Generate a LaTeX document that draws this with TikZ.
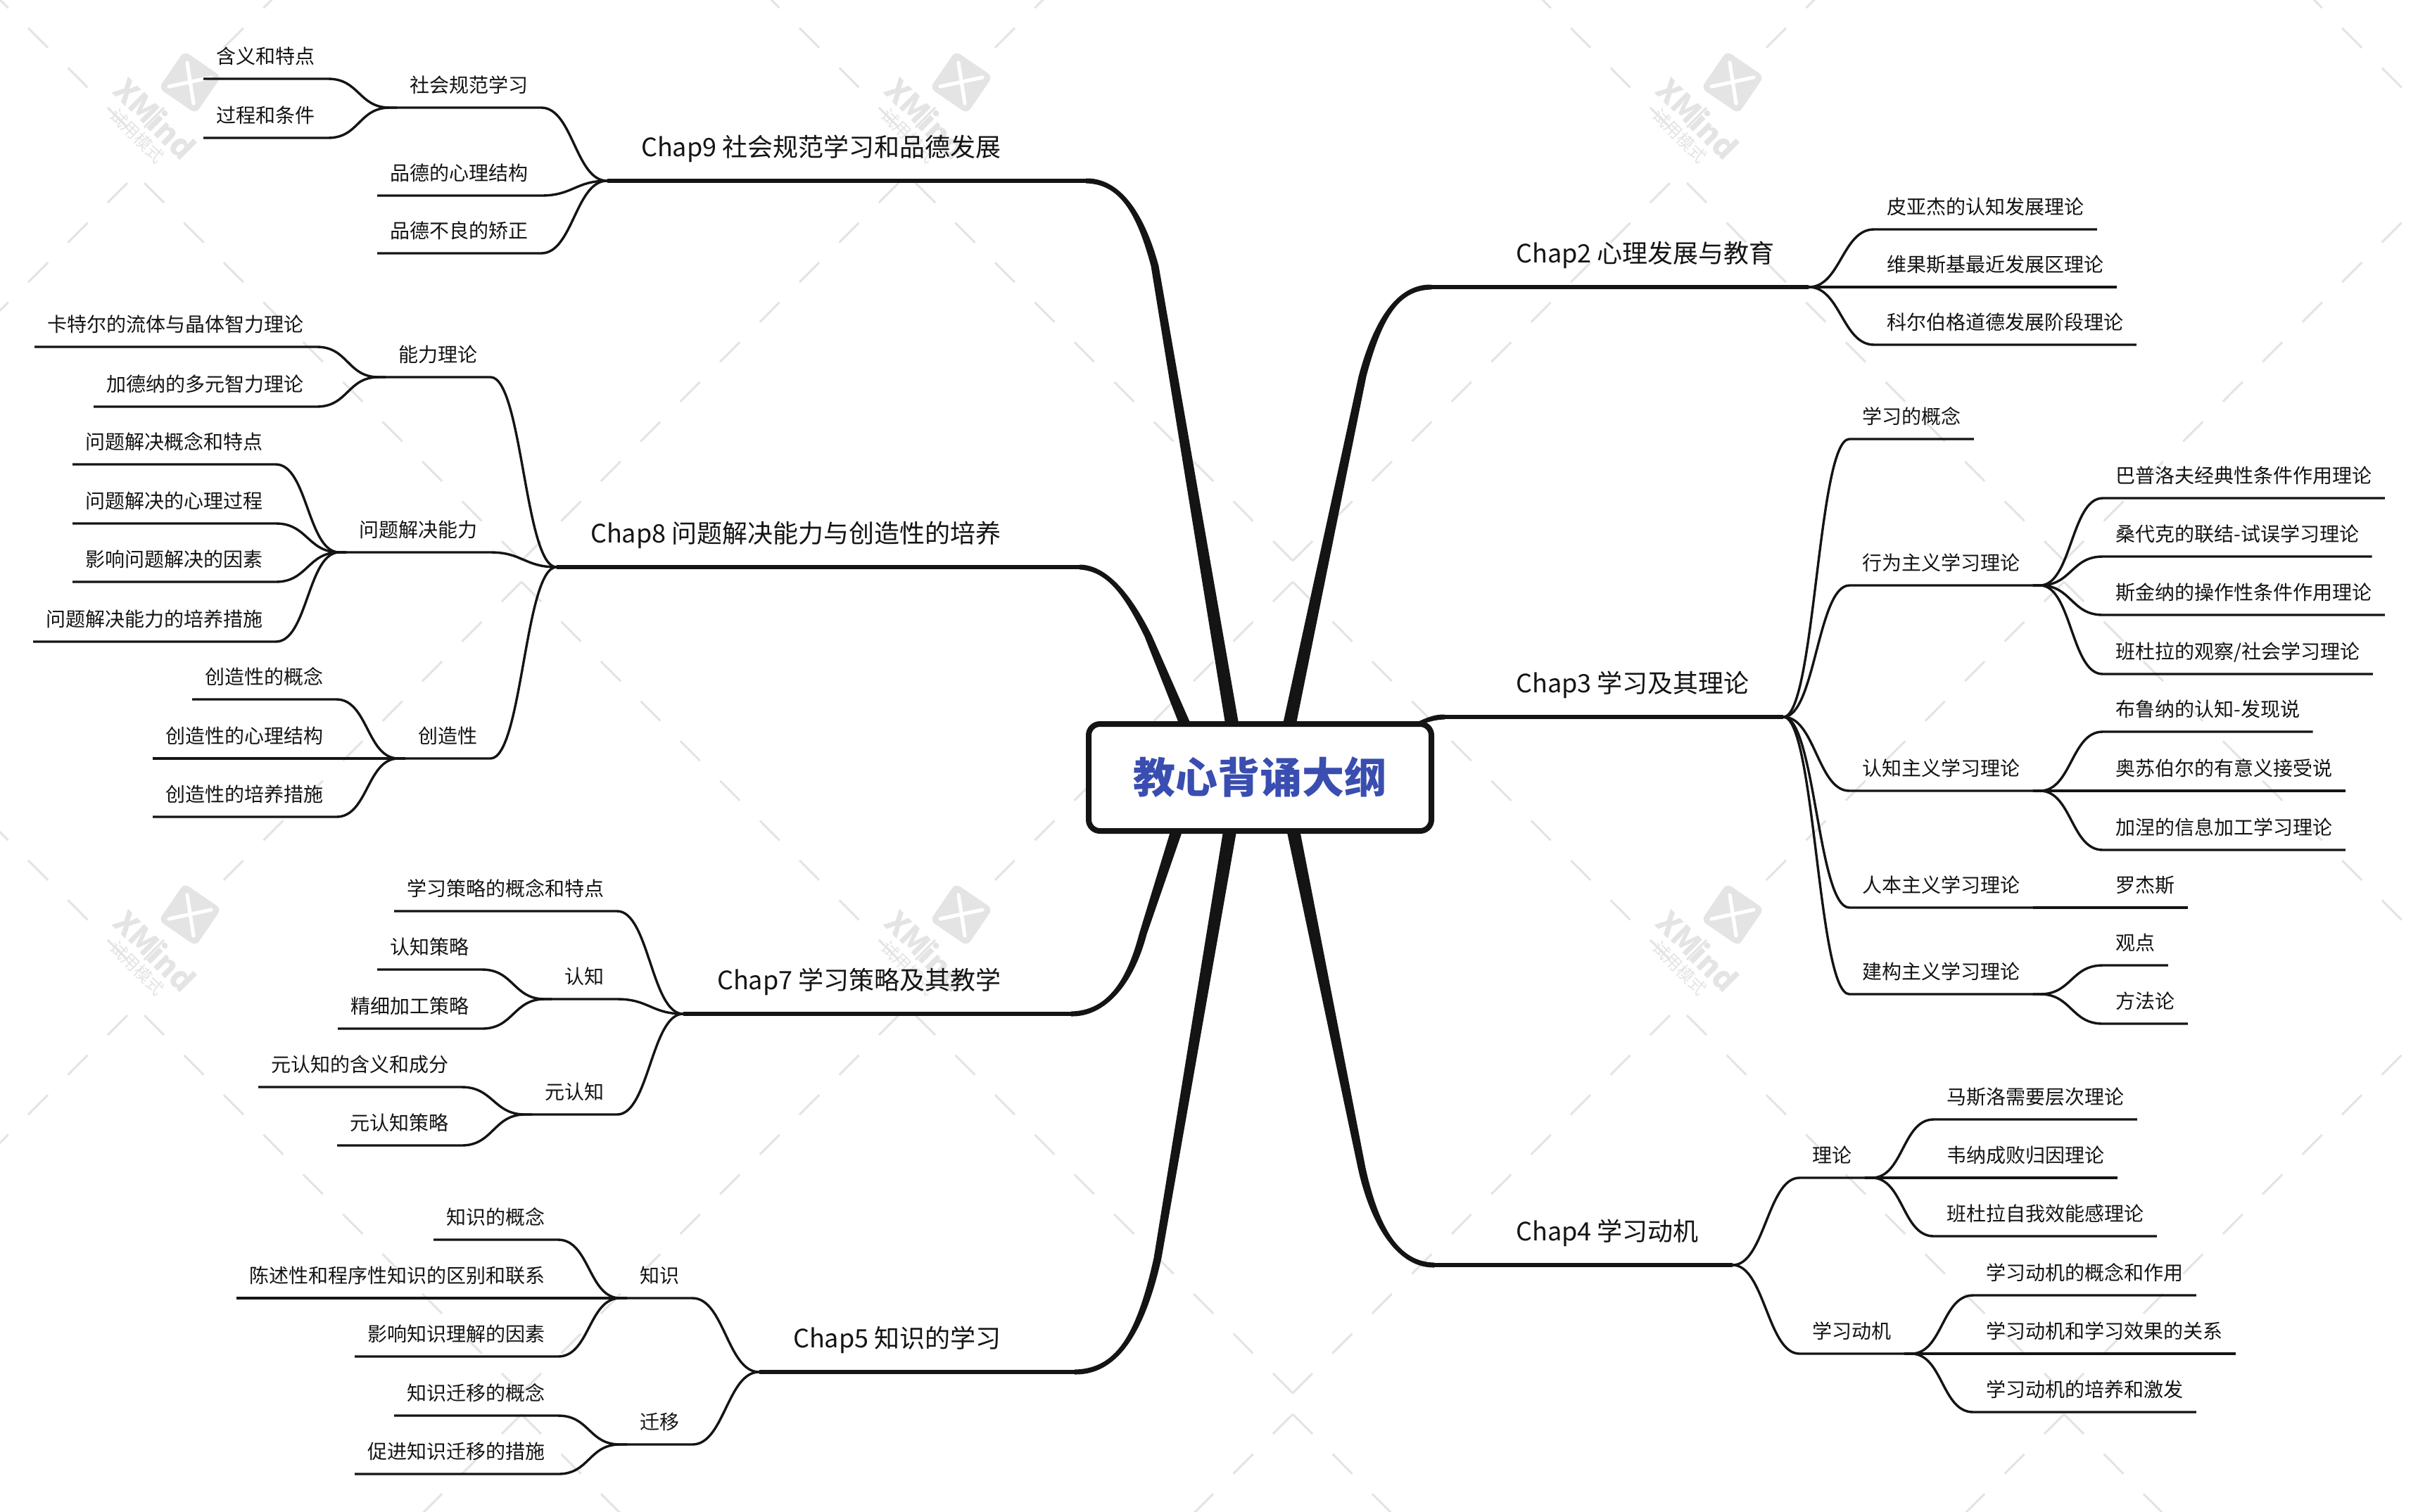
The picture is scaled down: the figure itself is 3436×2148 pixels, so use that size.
\documentclass[tikz,border=0pt]{standalone}
\usepackage{fontspec}
\setmainfont{Noto Sans CJK SC}
\usetikzlibrary{calc}
\definecolor{ink}{HTML}{141414}
\definecolor{wm}{HTML}{E4E4E4}
\definecolor{rootblue}{HTML}{3A4DB0}
\pgfdeclarelayer{wmlayer}
\pgfdeclarelayer{branch}
\pgfsetlayers{wmlayer,branch,main}
\tikzset{
 sub/.style={inner xsep=9pt,inner ysep=7.7pt,text height=10.5pt,text depth=3pt,text=ink,font=\fontsize{14pt}{16pt}\selectfont},
 maint/.style={inner xsep=24pt,inner ysep=13pt,text height=16pt,text depth=4pt,text=ink,font=\fontsize{18pt}{20pt}\selectfont},
 conn/.style={draw=ink,line width=1.7pt,line join=round},
 mainline/.style={draw=ink,line width=3pt},
 wmdash/.style={draw=wm,line width=1.5pt,dash pattern=on 19.8pt off 20.15pt},
 rootbox/.style={draw=ink,line width=4pt,fill=white,rounded corners=8pt,minimum width=243.5pt,minimum height=76pt,text=rootblue,inner sep=0pt,font=\fontsize{30pt}{32pt}\selectfont\bfseries},
}
% left-going connector: ext, parent, child
\newcommand\cL[3][10]{\draw[conn] (#2.south west) -- ++(-#1,0) .. controls +(-45,0) and ($(#3.south east)+(45,0)$) .. (#3.south east) -- (#3.south west);}
\newcommand\cR[3][10]{\draw[conn] (#2.south east) -- ++(#1,0) .. controls +(45,0) and ($(#3.south west)+(-45,0)$) .. (#3.south west) -- (#3.south east);}
% tapered main branch: sign, start offset from root centre, J, C1, C2, end
\newcommand\taper[6]{\fill[ink] ($(root.center)+(#2,0)+(#1*10,0)$) -- ($(#3)+(#1*5.5,0)$) .. controls ($(#4)+(#1*5.5,0)$) and ($(#5)+(0,-4.5)$) .. ($(#6)+(0,-3.5)$) -- ($(#6)+(0,3.5)$) .. controls ($(#5)+(0,4.5)$) and ($(#4)+(-#1*5.5,0)$) .. ($(#3)+(-#1*5.5,0)$) -- ($(root.center)+(#2,0)+(-#1*10,0)$) -- cycle;}
\begin{document}
\begin{tikzpicture}[x=0.5pt,y=-0.5pt]
\useasboundingbox (0,0) rectangle (3436,2148);
% ---------- watermark
\begin{pgfonlayer}{wmlayer}
\fill[white] (0,0) rectangle (3436,2148);
\begin{scope}
\clip (0,0) rectangle (3436,2148);
\foreach \i in {-1,0,1,2,3}{
 \foreach \j in {-1,0,1,2}{
  \pgfmathsetmacro\ax{193+1096*\i}
  \pgfmathsetmacro\ay{1183*\j}
  \pgfmathsetmacro\bx{\ax+548}
  % from B upper back to A lower
  \draw[wmdash] (\bx,\ay+797) -- (\ax,\ay+248);
  \draw[wmdash] (\bx,\ay+797) -- (\bx+548,\ay+248);
  % from B lower to next A upper
  \draw[wmdash] (\bx,\ay+827) -- (\ax,\ay+1376);
  \draw[wmdash] (\bx,\ay+827) -- (\bx+548,\ay+1376);
 }}
\foreach \i in {0,1,2}{
 \foreach \j in {0,1}{
  \begin{scope}[shift={(270+1096*\i,117+1183*\j)}]
   \fill[wm,rounded corners=4pt,rotate=-34.4] (-32,-32) rectangle (32,32);
   \draw[white,line width=2.6pt,line cap=round] (-4,-28) -- (5,30);
   \draw[white,line width=2.6pt,line cap=round] (-30,6) -- (30,-7);
   \node[rotate=-45,text=wm,inner sep=0pt,font=\fontsize{22pt}{24pt}\selectfont\bfseries] (xm\i\j) at (-49,51) {XMind};
   \node[rotate=-45,text=wm,inner sep=0pt,font=\fontsize{12pt}{13pt}\selectfont] (xt\i\j) at (-75,76) {试用模式};
  \end{scope}
 }}
\end{scope}
\end{pgfonlayer}
% ---------- root
\node[rootbox] (root) at (1790.5,1105) {教心背诵大纲};
% ---------- main topics
\node[maint,anchor=south east] (m9) at (1471,257) {Chap9 社会规范学习和品德发展};
\node[maint,anchor=south east] (m8) at (1471,806) {Chap8 问题解决能力与创造性的培养};
\node[maint,anchor=south east] (m7) at (1471,1441) {Chap7 学习策略及其教学};
\node[maint,anchor=south east] (m5) at (1471,1950) {Chap5 知识的学习};
\node[maint,anchor=south west] (m2) at (2106,408) {Chap2 心理发展与教育};
\node[maint,anchor=south west] (m3) at (2106,1019) {Chap3 学习及其理论};
\node[maint,anchor=south west] (m4) at (2106,1798) {Chap4 学习动机};
\coordinate (e9) at ($(m9.south east)+(72,0)$);
\coordinate (e8) at ($(m8.south east)+(63,0)$);
\coordinate (e7) at ($(m7.south east)+(51,0)$);
\coordinate (e5) at ($(m5.south east)+(56,0)$);
\coordinate (e2) at ($(m2.south west)+(-72,0)$);
\coordinate (e3) at ($(m3.south west)+(-53,0)$);
\coordinate (e4) at ($(m4.south west)+(-68,0)$);
\draw[mainline] (m9.south west) -- (e9);
\draw[mainline] (m8.south west) -- (e8);
\draw[mainline] (m7.south west) -- (e7);
\draw[mainline] (m5.south west) -- (e5);
\draw[mainline] (m2.south east) -- (e2);
\draw[mainline] (m3.south east) -- (e3);
\draw[mainline] (m4.south east) -- (e4);
\begin{pgfonlayer}{branch}
\taper{1}{-27}{1641,378}{1620,300}{1590,257}{e9}
\taper{1}{-75}{1632,905}{1605,850}{1575,807}{e8}
\taper{-1}{-94}{1624,1328}{1605,1400}{1570,1441}{e7}
\taper{-1}{-30}{1645,1788}{1620,1900}{1585,1950}{e5}
\taper{-1}{26}{1936,535}{1960,445}{1990,408}{e2}
\taper{-1}{0}{1990,1040}{2015,1030}{2030,1019}{e3}
\taper{1}{32}{1935,1660}{1955,1750}{1990,1798}{e4}
\end{pgfonlayer}
% ---------- Chap9
\node[sub,anchor=south east] (a1) at (769,153) {社会规范学习};
\node[sub,anchor=south east] (a2) at (769,278) {品德的心理结构};
\node[sub,anchor=south east] (a3) at (769,360) {品德不良的矫正};
\node[sub,anchor=south east] (a11) at (466,112) {含义和特点};
\node[sub,anchor=south east] (a12) at (466,196) {过程和条件};
\cL[0]{m9}{a1}\cL[0]{m9}{a2}\cL[0]{m9}{a3}
\cL{a1}{a11}\cL{a1}{a12}
% ---------- Chap8
\node[sub,anchor=south east] (b1) at (697,536) {能力理论};
\node[sub,anchor=south east] (b2) at (697,785) {问题解决能力};
\node[sub,anchor=south east] (b3) at (697,1078) {创造性};
\node[sub,anchor=south east] (b11) at (450,493) {卡特尔的流体与晶体智力理论};
\node[sub,anchor=south east] (b12) at (450,578) {加德纳的多元智力理论};
\node[sub,anchor=south east] (b21) at (392,660) {问题解决概念和特点};
\node[sub,anchor=south east] (b22) at (392,744) {问题解决的心理过程};
\node[sub,anchor=south east] (b23) at (392,827) {影响问题解决的因素};
\node[sub,anchor=south east] (b24) at (392,912) {问题解决能力的培养措施};
\node[sub,anchor=south east] (b31) at (478,994) {创造性的概念};
\node[sub,anchor=south east] (b32) at (478,1078) {创造性的心理结构};
\node[sub,anchor=south east] (b33) at (478,1161) {创造性的培养措施};
\cL[0]{m8}{b1}\cL[0]{m8}{b2}\cL[0]{m8}{b3}
\cL{b1}{b11}\cL{b1}{b12}
\cL{b2}{b21}\cL{b2}{b22}\cL{b2}{b23}\cL{b2}{b24}
\cL{b3}{b31}\cL{b3}{b32}\cL{b3}{b33}
% ---------- Chap7
\node[sub,anchor=south east] (c1) at (877,1295) {学习策略的概念和特点};
\node[sub,anchor=south east] (c2) at (877,1420) {认知};
\node[sub,anchor=south east] (c3) at (877,1584) {元认知};
\node[sub,anchor=south east] (c21) at (685,1378) {认知策略};
\node[sub,anchor=south east] (c22) at (685,1462) {精细加工策略};
\node[sub,anchor=south east] (c31) at (656,1545) {元认知的含义和成分};
\node[sub,anchor=south east] (c32) at (656,1628) {元认知策略};
\cL[0]{m7}{c1}\cL[0]{m7}{c2}\cL[0]{m7}{c3}
\cL{c2}{c21}\cL{c2}{c22}
\cL{c3}{c31}\cL{c3}{c32}
% ---------- Chap5
\node[sub,anchor=south east] (d1) at (984,1845) {知识};
\node[sub,anchor=south east] (d2) at (984,2053) {迁移};
\node[sub,anchor=south east] (d11) at (793,1762) {知识的概念};
\node[sub,anchor=south east] (d12) at (793,1845) {陈述性和程序性知识的区别和联系};
\node[sub,anchor=south east] (d13) at (793,1928) {影响知识理解的因素};
\node[sub,anchor=south east] (d21) at (793,2012) {知识迁移的概念};
\node[sub,anchor=south east] (d22) at (793,2095) {促进知识迁移的措施};
\cL[0]{m5}{d1}\cL[0]{m5}{d2}
\cL{d1}{d11}\cL{d1}{d12}\cL{d1}{d13}
\cL{d2}{d21}\cL{d2}{d22}
% ---------- Chap2
\node[sub,anchor=south west] (p1) at (2663,326) {皮亚杰的认知发展理论};
\node[sub,anchor=south west] (p2) at (2663,408) {维果斯基最近发展区理论};
\node[sub,anchor=south west] (p3) at (2663,490) {科尔伯格道德发展阶段理论};
\cR[0]{m2}{p1}\cR[0]{m2}{p2}\cR[0]{m2}{p3}
% ---------- Chap3
\node[sub,anchor=south west] (q1) at (2628,624) {学习的概念};
\node[sub,anchor=south west] (q2) at (2628,832) {行为主义学习理论};
\node[sub,anchor=south west] (q3) at (2628,1124) {认知主义学习理论};
\node[sub,anchor=south west] (q4) at (2628,1290) {人本主义学习理论};
\node[sub,anchor=south west] (q5) at (2628,1413) {建构主义学习理论};
\node[sub,anchor=south west] (q21) at (2988,708) {巴普洛夫经典性条件作用理论};
\node[sub,anchor=south west] (q22) at (2988,791) {桑代克的联结-试误学习理论};
\node[sub,anchor=south west] (q23) at (2988,874) {斯金纳的操作性条件作用理论};
\node[sub,anchor=south west] (q24) at (2988,958) {班杜拉的观察/社会学习理论};
\node[sub,anchor=south west] (q31) at (2988,1040) {布鲁纳的认知-发现说};
\node[sub,anchor=south west] (q32) at (2988,1124) {奥苏伯尔的有意义接受说};
\node[sub,anchor=south west] (q33) at (2988,1208) {加涅的信息加工学习理论};
\node[sub,anchor=south west] (q41) at (2988,1290) {罗杰斯};
\node[sub,anchor=south west] (q51) at (2988,1372) {观点};
\node[sub,anchor=south west] (q52) at (2988,1455) {方法论};
\cR[0]{m3}{q1}\cR[0]{m3}{q2}\cR[0]{m3}{q3}\cR[0]{m3}{q4}\cR[0]{m3}{q5}
\cR{q2}{q21}\cR{q2}{q22}\cR{q2}{q23}\cR{q2}{q24}
\cR{q3}{q31}\cR{q3}{q32}\cR{q3}{q33}
\cR{q4}{q41}
\cR{q5}{q51}\cR{q5}{q52}
% ---------- Chap4
\node[sub,anchor=south west] (r1) at (2557,1674) {理论};
\node[sub,anchor=south west] (r2) at (2557,1924) {学习动机};
\node[sub,anchor=south west] (r11) at (2748,1591) {马斯洛需要层次理论};
\node[sub,anchor=south west] (r12) at (2748,1674) {韦纳成败归因理论};
\node[sub,anchor=south west] (r13) at (2748,1757) {班杜拉自我效能感理论};
\node[sub,anchor=south west] (r21) at (2804,1841) {学习动机的概念和作用};
\node[sub,anchor=south west] (r22) at (2804,1924) {学习动机和学习效果的关系};
\node[sub,anchor=south west] (r23) at (2804,2007) {学习动机的培养和激发};
\cR[0]{m4}{r1}\cR[0]{m4}{r2}
\cR{r1}{r11}\cR{r1}{r12}\cR{r1}{r13}
\cR{r2}{r21}\cR{r2}{r22}\cR{r2}{r23}
\end{tikzpicture}
\end{document}
